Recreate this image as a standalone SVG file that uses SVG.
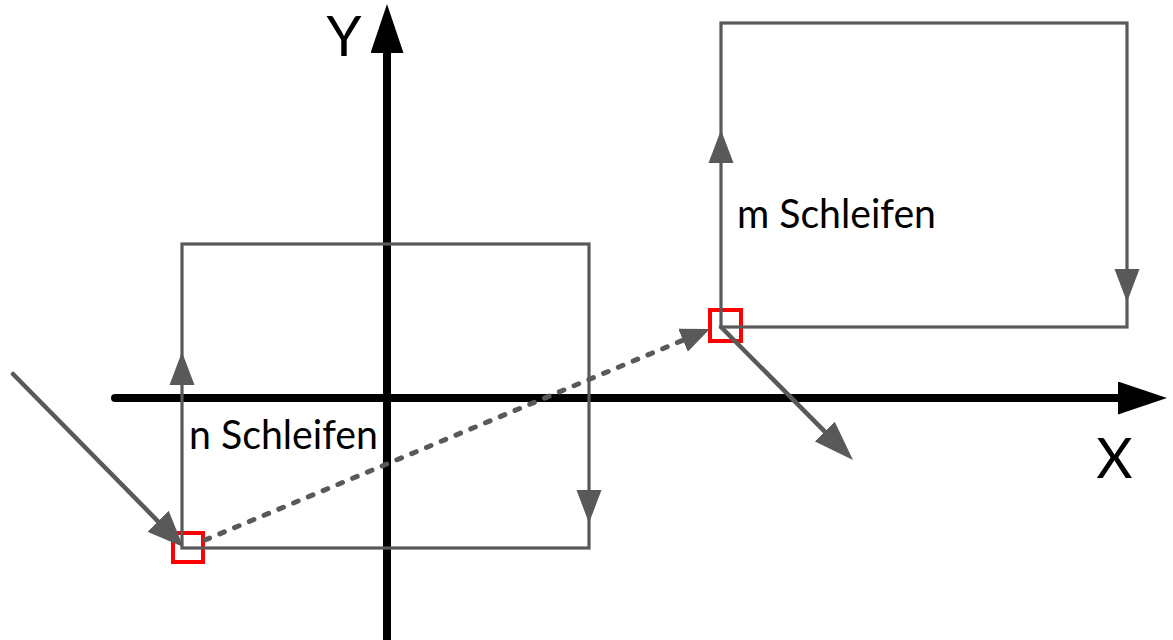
<svg xmlns="http://www.w3.org/2000/svg" xmlns:xlink="http://www.w3.org/1999/xlink" width="1173" height="640" viewBox="0 0 1173 640">
<style>
.axis{stroke:#000;stroke-width:8;fill:none;stroke-linecap:round}
.loop{stroke:#595959;stroke-width:3.2;fill:none}
.mark{stroke:#ff0000;stroke-width:4;fill:none}
.move{stroke:#595959;stroke-width:4.5;fill:none;stroke-linecap:round}
.dash{stroke:#595959;stroke-width:5;fill:none;stroke-linecap:round;stroke-dasharray:5 11}
.lbl{font-family:Lato,"Open Sans",sans-serif;fill:#000}
.gray{fill:#595959}
</style>
<defs>
<path id="tri" d="M0,0 L-33,-12.5 L-33,12.5 Z"/>
<marker id="axHead" markerUnits="userSpaceOnUse" viewBox="0 0 49 33" markerWidth="49" markerHeight="33" refX="0" refY="16.5" orient="auto"><path d="M0,0 L49,16.5 L0,33 Z" fill="#000"/></marker>
<marker id="inHead" markerUnits="userSpaceOnUse" viewBox="0 0 36 30" markerWidth="36" markerHeight="30" refX="0" refY="15" orient="auto"><path d="M0,0 L36,15 L0,30 Z" fill="#595959"/></marker>
<marker id="outHead" markerUnits="userSpaceOnUse" viewBox="0 0 40 28" markerWidth="40" markerHeight="28" refX="0" refY="14" orient="auto"><path d="M0,0 L40,14 L0,28 Z" fill="#595959"/></marker>
<marker id="dashHead" markerUnits="userSpaceOnUse" viewBox="0 0 29 25" markerWidth="29" markerHeight="25" refX="0" refY="12.5" orient="auto"><path d="M0,0 L29,12.5 L0,25 Z" fill="#595959"/></marker>
</defs>
<rect width="1173" height="640" fill="#fff"/>
<g id="axes">
<line class="axis" x1="115" y1="398" x2="1118" y2="398" marker-end="url(#axHead)"/>
<line class="axis" style="stroke-linecap:butt" x1="387" y1="645" x2="387" y2="53" marker-end="url(#axHead)"/>
<text class="lbl" x="344" y="56" font-size="56" text-anchor="middle">Y</text>
<text class="lbl" x="1114.5" y="478" font-size="56" text-anchor="middle">X</text>
</g>
<g id="start-mark-n"><rect class="mark" x="173" y="533" width="30" height="29"/></g>
<g id="start-mark-m"><rect class="mark" x="710" y="310" width="31" height="31"/></g>
<g id="loop-n">
<rect class="loop" x="182" y="244" width="407" height="304"/>
<use xlink:href="#tri" class="gray" transform="translate(182,352) rotate(-90)"/>
<use xlink:href="#tri" class="gray" transform="translate(589,523) rotate(90)"/>
<text class="lbl" x="189" y="449" font-size="40" textLength="189" lengthAdjust="spacingAndGlyphs">n Schleifen</text>
</g>
<g id="loop-m">
<rect class="loop" x="721" y="23" width="406" height="304"/>
<use xlink:href="#tri" class="gray" transform="translate(721,130) rotate(-90)"/>
<use xlink:href="#tri" class="gray" transform="translate(1127,302) rotate(90)"/>
<text class="lbl" x="737" y="228" font-size="40" textLength="199" lengthAdjust="spacingAndGlyphs">m Schleifen</text>
</g>
<g id="connectors">
<line class="move" x1="13" y1="374" x2="158" y2="521.3" marker-end="url(#inHead)"/>
<line class="dash" x1="205" y1="540" x2="683" y2="340.2" marker-end="url(#dashHead)"/>
<line class="move" x1="721" y1="327" x2="824.8" y2="431.6" marker-end="url(#outHead)"/>
</g>
</svg>
